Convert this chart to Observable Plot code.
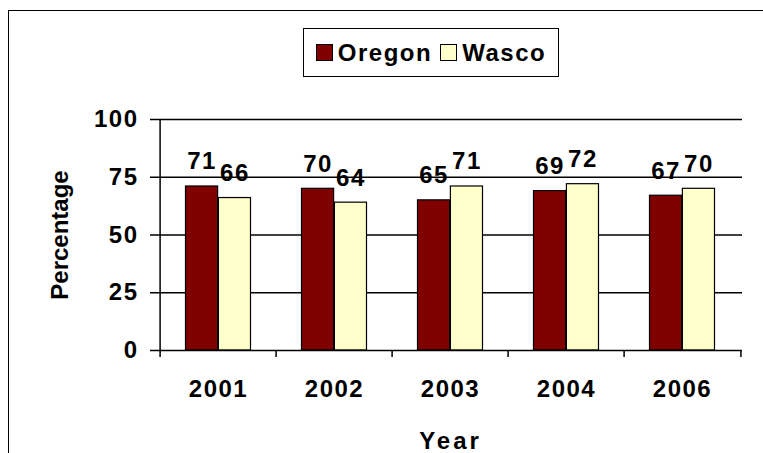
<!DOCTYPE html>
<html>
<head>
<meta charset="utf-8">
<script src="https://cdn.jsdelivr.net/npm/d3@7"></script>
<script src="https://cdn.jsdelivr.net/npm/@observablehq/plot@0.6"></script>
<style>
  html, body { margin: 0; padding: 0; background: #fff; }
  body { width: 763px; height: 453px; position: relative; overflow: hidden;
         font-family: "Liberation Sans", Arial, sans-serif; }
  #frame { position: absolute; left: 8px; top: 10px; width: 800px; height: 500px;
           border: 1.2px solid #000; box-sizing: border-box; }
  #chart { position: absolute; left: 0; top: 0; }
  #chart svg text { letter-spacing: 1.5px; }
  #chart svg g[aria-label="x-axis label"] text { letter-spacing: 3px; }
  #chart svg g[aria-label="y-axis label"] text { letter-spacing: 0px; }
  #legend { position: absolute; left: 303px; top: 28px; width: 256px; height: 49px;
            border: 1.8px solid #000; box-sizing: border-box; background: #fff;
            display: flex; align-items: center; justify-content: center;
            font-weight: bold; font-size: 24px; letter-spacing: 1.5px; }
  .sw { display: inline-block; width: 15px; height: 15px; border: 1px solid #000;
        margin-right: 5px; }
  .item { display: flex; align-items: center; margin: 0 4px; }
</style>
</head>
<body>
<div id="frame"></div>
<div id="chart"></div>
<div id="legend"></div>
<script>
const years = ["2001", "2002", "2003", "2004", "2006"];
const oregon = [71, 70, 65, 69, 67];
const wasco = [66, 64, 71, 72, 70];
const seriesNames = ["Oregon", "Wasco"];
const seriesColors = ["#800000", "#FFFFCC"];
const yTicks = [0, 25, 50, 75, 100];
const gridValues = [25, 50, 75, 100];

const data = years.flatMap((year, i) => [
  {year, series: "Oregon", value: oregon[i]},
  {year, series: "Wasco", value: wasco[i]}
]);
const oData = data.filter(d => d.series === "Oregon");
const wData = data.filter(d => d.series === "Wasco");

const W = 763, H = 453;
const mL = 158, mR = 21, mT = 119, mB = 103;
const bw = (W - mL - mR) / years.length;
const outer = 25.5, barW = (bw - 2 * outer) / 2;

const font = "Liberation Sans, Arial, sans-serif";

const plot = Plot.plot({
  width: W, height: H,
  marginLeft: mL, marginRight: mR, marginTop: mT, marginBottom: mB,
  style: {fontFamily: font, background: "transparent", overflow: "visible"},
  x: {type: "band", domain: years, padding: 0},
  y: {domain: [0, 100]},
  color: {domain: seriesNames, range: seriesColors},
  marks: [
    Plot.ruleY(gridValues, {stroke: "#000", strokeWidth: 1.5}),
    Plot.barY(oData, {x: "year", y: "value", fill: d => d.series, stroke: "#000", strokeWidth: 1.2,
      insetLeft: outer, insetRight: outer + barW}),
    Plot.barY(wData, {x: "year", y: "value", fill: d => d.series, stroke: "#000", strokeWidth: 1.2,
      insetLeft: outer + barW, insetRight: outer}),
    Plot.ruleY([0], {stroke: "#000", strokeWidth: 1.5}),
    Plot.ruleX([years[0]], {x: d => d, dx: -bw / 2, y1: 0, y2: 100, stroke: "#000", strokeWidth: 1.5}),
    Plot.text(oData, {x: "year", y: "value", text: d => String(d.value), dx: -barW / 2, dy: -17,
      lineAnchor: "bottom", fontSize: 24, fontWeight: "bold", fill: "#000"}),
    Plot.text(wData, {x: "year", y: "value", text: d => String(d.value), dx: barW / 2, dy: -17,
      lineAnchor: "bottom", fontSize: 24, fontWeight: "bold", fill: "#000"}),
    Plot.axisY({ticks: yTicks, tickSize: 8, tickPadding: 12, tickFormat: d => String(d),
      fontSize: 24, fontWeight: "bold", stroke: "#000", strokeWidth: 1.5, fill: "#000",
      label: "Percentage", labelAnchor: "center", labelArrow: "none", labelOffset: 108}),
    Plot.axisX({ticks: years, tickSize: 7, tickFormat: () => "", dx: -bw / 2, stroke: "#000", strokeWidth: 1.5, label: null}),
    Plot.axisX({ticks: [years[years.length - 1]], tickSize: 7, tickFormat: () => "", dx: bw / 2, stroke: "#000", strokeWidth: 1.5, label: null}),
    Plot.axisX({ticks: years, tickSize: 0, tickPadding: 29, fontSize: 24, fontWeight: "bold", fill: "#000",
      label: "Year", labelAnchor: "center", labelArrow: "none", labelOffset: 98})
  ]
});
document.getElementById("chart").appendChild(plot);

const legend = document.getElementById("legend");
seriesNames.forEach((name, i) => {
  const item = document.createElement("span");
  item.className = "item";
  const sw = document.createElement("span");
  sw.className = "sw";
  sw.style.background = seriesColors[i];
  item.appendChild(sw);
  item.appendChild(document.createTextNode(name));
  legend.appendChild(item);
});
</script>
</body>
</html>
